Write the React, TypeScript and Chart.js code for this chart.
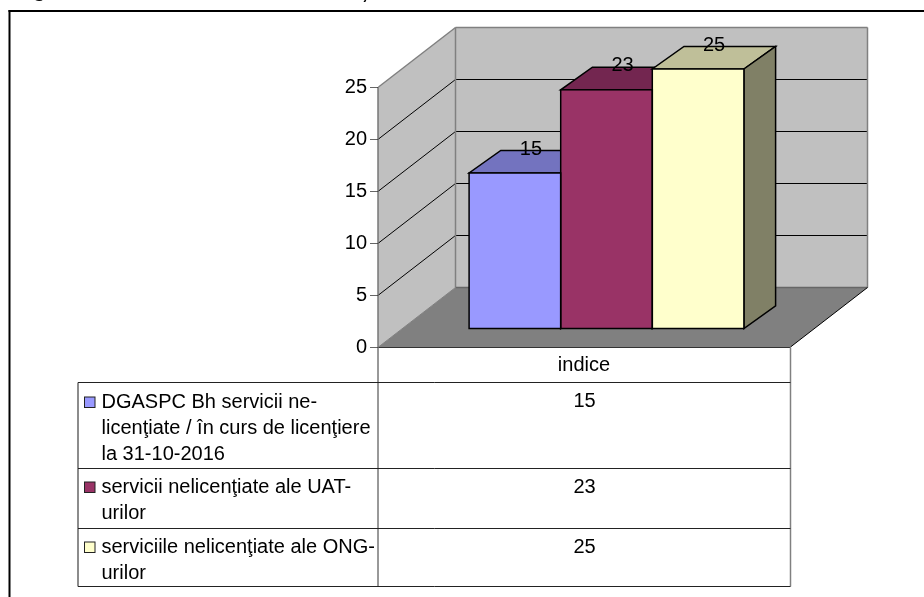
import React, { useEffect, useRef } from "react";
import { Chart, registerables } from "chart.js";

Chart.register(...registerables);

const categories = ["indice"];
const seriesNames = [
  "DGASPC Bh servicii ne-\nlicenţiate / în curs de licenţiere\nla 31-10-2016",
  "servicii nelicenţiate ale UAT-\nurilor",
  "serviciile nelicenţiate ale ONG-\nurilor",
];
const seriesA = [15];
const seriesB = [23];
const seriesC = [25];
const tickValues = [0, 5, 10, 15, 20, 25];

const frontColors = ["#9999FF", "#993366", "#FFFFCC"];
const topColors = ["#7373BF", "#732650", "#BFBF99"];
const sideColors = ["#4D4D80", "#4D1A33", "#808066"];

const FONT = '"Liberation Sans", Arial, sans-serif';
const FS = 20;
const DX = 77, DY = 59.5;
const SHIFT_X = 22.5, SHIFT_Y = 18;
const BAR_DX = 31.7, BAR_DY = 22.6;

const rowLinesY = [382.5, 468.5, 528.5, 586.5];
const rowBaselines = [[408, 434, 460], [493, 519], [553, 579]];
const valueBaselines = [407, 493, 553];

function poly(ctx: CanvasRenderingContext2D, pts: number[][], fill?: string, stroke?: string, lw = 1) {
  ctx.beginPath();
  pts.forEach((p, i) => (i ? ctx.lineTo(p[0], p[1]) : ctx.moveTo(p[0], p[1])));
  ctx.closePath();
  if (fill) { ctx.fillStyle = fill; ctx.fill(); }
  if (stroke) { ctx.strokeStyle = stroke; ctx.lineWidth = lw; ctx.stroke(); }
}
function line(ctx: CanvasRenderingContext2D, x1: number, y1: number, x2: number, y2: number, c: string, lw = 1) {
  ctx.beginPath(); ctx.moveTo(x1, y1); ctx.lineTo(x2, y2);
  ctx.strokeStyle = c; ctx.lineWidth = lw; ctx.stroke();
}

const scenePlugin = {
  id: "scene",
  beforeDraw(chart: any) {
    const { ctx, chartArea: a, scales } = chart;
    const y = scales.y;
    const L = a.left + 0.5, R = a.right + 0.5, T = y.getPixelForValue(25), B = y.getPixelForValue(0);
    ctx.save();
    // page frame and the clipped heading above it
    ctx.fillStyle = "#000";
    ctx.font = `bold 21px ${FONT}`;
    ctx.textBaseline = "alphabetic";
    ctx.fillText("g", 33, -3);
    ctx.fillText(",", 362, -1);
    line(ctx, 9.5, 10, 9.5, 597, "#000", 2);
    line(ctx, 8.5, 11, 924, 11, "#000", 2);
    // walls and floor
    poly(ctx, [[L, T], [L + DX, T - DY], [L + DX, B - DY], [L, B]], "#C0C0C0");
    poly(ctx, [[L + DX, T - DY], [R + DX, T - DY], [R + DX, B - DY], [L + DX, B - DY]], "#C0C0C0");
    poly(ctx, [[L, B], [R, B], [R + DX, B - DY], [L + DX, B - DY]], "#808080");
    tickValues.forEach((v) => {
      if (v === 0 || v === 25) return;
      const p = y.getPixelForValue(v);
      line(ctx, L, p, L + DX, p - DY, "#000");
      line(ctx, L + DX, p - DY, R + DX, p - DY, "#000");
    });
    line(ctx, L + DX, T - DY, R + DX, T - DY, "#808080", 1.5);
    line(ctx, L, T, L + DX, T - DY, "#808080", 1.5);
    line(ctx, L + DX, T - DY, L + DX, B - DY, "#808080", 1.5);
    line(ctx, R + DX, T - DY, R + DX, B - DY, "#808080", 1.5);
    line(ctx, L + DX, B - DY, R + DX, B - DY, "#666", 1.5);
    line(ctx, L, B, L + DX, B - DY, "#808080", 1);
    line(ctx, R, B, R + DX, B - DY, "#000", 1);
    ctx.restore();
  },
  beforeDatasetsDraw(chart: any) {
    const { ctx } = chart;
    ctx.save();
    ctx.translate(SHIFT_X, -SHIFT_Y);
    chart.data.datasets.forEach((_: any, i: number) => {
      const b = chart.getDatasetMeta(i).data[0];
      const l = b.x - b.width / 2, r = b.x + b.width / 2, t = b.y, base = b.base;
      poly(ctx, [[l, t], [r, t], [r + BAR_DX, t - BAR_DY], [l + BAR_DX, t - BAR_DY]], topColors[i], "#000", 1.5);
      poly(ctx, [[r, t], [r + BAR_DX, t - BAR_DY], [r + BAR_DX, base - BAR_DY], [r, base]], sideColors[i], "#000", 1.5);
    });
    ctx.restore();
  },
  beforeDatasetDraw(chart: any) {
    chart.ctx.save();
    chart.ctx.translate(SHIFT_X, -SHIFT_Y);
  },
  afterDatasetDraw(chart: any) {
    chart.ctx.restore();
  },
  afterDatasetsDraw(chart: any) {
    const { ctx } = chart;
    ctx.save();
    // one shared outline for the front faces, so touching bars keep a single edge
    ctx.strokeStyle = "#000";
    ctx.lineWidth = 1.5;
    chart.data.datasets.forEach((_: any, i: number) => {
      const b = chart.getDatasetMeta(i).data[0];
      ctx.strokeRect(b.x - b.width / 2 + SHIFT_X, b.y - SHIFT_Y, b.width, b.base - b.y);
    });
    ctx.font = `${FS}px ${FONT}`;
    ctx.fillStyle = "#000";
    ctx.textAlign = "center";
    ctx.textBaseline = "middle";
    chart.data.datasets.forEach((ds: any, i: number) => {
      const b = chart.getDatasetMeta(i).data[0];
      ctx.fillText(String(ds.data[0]), b.x + SHIFT_X + 16, b.y - SHIFT_Y - 24);
    });
    ctx.restore();
  },
  afterDraw(chart: any) {
    const { ctx, chartArea: a } = chart;
    const L = a.left + 0.5, R = a.right + 0.5, B = a.bottom + 0.5;
    const tableLeft = 78;
    ctx.save();
    line(ctx, L - 0.5, a.top, L - 0.5, rowLinesY[3], "#333");
    line(ctx, L, B, R, B, "#333");
    line(ctx, R, B, R, rowLinesY[3], "#808080", 1.5);
    line(ctx, tableLeft, rowLinesY[0], tableLeft, rowLinesY[3], "#666", 1.5);
    rowLinesY.forEach((yy) => line(ctx, tableLeft, yy, R, yy, "#222"));
    ctx.font = `${FS}px ${FONT}`;
    ctx.textBaseline = "alphabetic";
    chart.data.datasets.forEach((ds: any, i: number) => {
      const lines = String(ds.label).split("\n");
      const by = rowBaselines[i];
      ctx.fillStyle = ds.backgroundColor;
      ctx.strokeStyle = "#222";
      ctx.lineWidth = 1;
      ctx.fillRect(84.5, by[0] - 11, 10.5, 10.5);
      ctx.strokeRect(84.5, by[0] - 11, 10.5, 10.5);
      ctx.fillStyle = "#000";
      ctx.textAlign = "left";
      lines.forEach((t, k) => ctx.fillText(t, 101.5, by[k]));
      ctx.textAlign = "center";
      ctx.fillText(String(ds.data[0]), (L + R) / 2, valueBaselines[i]);
    });
    ctx.restore();
  },
};

export default function App() {
  const ref = useRef<HTMLCanvasElement>(null);
  useEffect(() => {
    document.body.style.margin = "0";
    const chart = new Chart(ref.current!, {
      type: "bar",
      data: {
        labels: categories,
        datasets: [seriesA, seriesB, seriesC].map((data, i) => ({
          label: seriesNames[i],
          data,
          backgroundColor: frontColors[i],
          borderWidth: 0,
          clip: false,
          categoryPercentage: 0.667,
          barPercentage: 1,
        })),
      },
      options: {
        responsive: false,
        animation: false,
        layout: { padding: { left: 0, right: 134, top: 87, bottom: 0 } },
        plugins: { legend: { display: false }, tooltip: { enabled: false }, title: { display: false } },
        scales: {
          x: {
            grid: { display: false, drawTicks: false },
            border: { display: false },
            ticks: { color: "#000", font: { family: FONT, size: FS }, padding: 6, maxRotation: 0 },
            afterFit: (s: any) => { s.height = 250; },
          },
          y: {
            min: 0,
            max: 25,
            afterFit: (s: any) => { s.width = 378; },
            afterBuildTicks: (s: any) => { s.ticks = tickValues.map((value) => ({ value })); },
            grid: { drawOnChartArea: false, drawTicks: true, tickLength: 8, tickColor: "#666" },
            border: { display: false },
            ticks: { color: "#000", font: { family: FONT, size: FS }, padding: 3 },
          },
        },
      } as any,
      plugins: [scenePlugin],
    });
    return () => chart.destroy();
  }, []);
  return (
    <div style={{ position: "absolute", left: 0, top: 0, width: 924, height: 597, background: "#fff" }}>
      <canvas ref={ref} width={924} height={597} style={{ display: "block" }} />
    </div>
  );
}
